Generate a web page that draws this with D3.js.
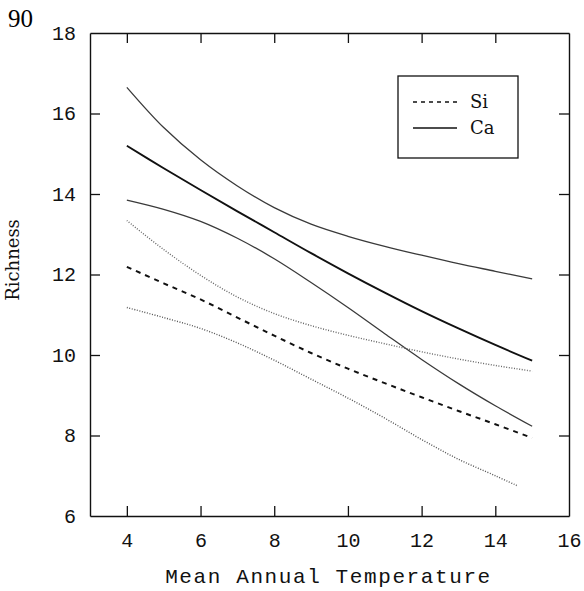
<!DOCTYPE html>
<html>
<head>
<meta charset="utf-8">
<script src="https://cdn.jsdelivr.net/npm/d3@7"></script>
<style>
  body { margin: 0; background: #fff; }
  svg { display: block; }
</style>
</head>
<body>
<div id="chart"></div>
<script>
// temperatures sampled along each fitted curve
const temps = [4, 5, 6, 7, 8, 9, 10, 11, 12, 13, 14, 15];
const tempsSiLow = [4, 5, 6, 7, 8, 9, 10, 11, 12, 13, 14, 14.6];

// Ca: fit and its upper / lower band
const caFit   = [15.2, 14.64, 14.1, 13.57, 13.05, 12.53, 12.03, 11.55, 11.09, 10.66, 10.25, 9.86];
const caUpper = [16.65, 15.65, 14.85, 14.2, 13.66, 13.25, 12.95, 12.7, 12.48, 12.27, 12.08, 11.89];
const caLower = [13.85, 13.62, 13.32, 12.9, 12.39, 11.8, 11.18, 10.53, 9.89, 9.29, 8.74, 8.23];

// Si: fit and its upper / lower band
const siFit   = [12.19, 11.78, 11.38, 10.93, 10.48, 10.05, 9.66, 9.3, 8.95, 8.61, 8.28, 7.94];
const siUpper = [13.34, 12.62, 11.98, 11.44, 11.03, 10.73, 10.49, 10.28, 10.08, 9.9, 9.74, 9.6];
const siLower = [11.18, 10.93, 10.66, 10.3, 9.87, 9.4, 8.93, 8.43, 7.9, 7.41, 7.0, 6.75];

const xTicks = [4, 6, 8, 10, 12, 14, 16];
const yTicks = [6, 8, 10, 12, 14, 16, 18];
const legendItems = ["Si", "Ca"];

const width = 584, height = 591;

const x = d3.scaleLinear().domain([3, 16]).range([90, 569]);
const y = d3.scaleLinear().domain([6, 18]).range([516, 33]);

const svg = d3.select("#chart").append("svg")
    .attr("width", width)
    .attr("height", height);

const tickFont = "'Liberation Mono', 'DejaVu Sans Mono', monospace";
const serif = "'DejaVu Serif', serif";

// page number
svg.append("text")
    .attr("x", 8)
    .attr("y", 27)
    .style("font", "25px 'Liberation Serif', serif")
    .text("90");

function styleAxis(g) {
  g.select(".domain").attr("stroke", "#111").attr("stroke-width", 1.4);
  g.selectAll(".tick line").attr("stroke", "#111").attr("stroke-width", 1.3);
  g.selectAll(".tick text").attr("fill", "#111").style("font-family", tickFont).style("font-size", "20px");
}

// bottom axis
svg.append("g")
    .attr("transform", `translate(0,${y(6)})`)
    .call(d3.axisBottom(x).tickValues(xTicks).tickSize(-10).tickSizeOuter(0).tickPadding(17).tickFormat(d3.format("d")))
    .call(styleAxis)
    .call(g => g.selectAll(".tick line").filter(d => d === 16).remove());

// top axis
svg.append("g")
    .attr("transform", `translate(0,${y(18)})`)
    .call(d3.axisTop(x).tickValues(xTicks.filter(d => d < 16)).tickSize(-10).tickSizeOuter(0).tickFormat(""))
    .call(styleAxis);

// left axis
svg.append("g")
    .attr("transform", `translate(${x(3)},0)`)
    .call(d3.axisLeft(y).tickValues(yTicks).tickSize(-10).tickSizeOuter(0).tickPadding(14).tickFormat(d3.format("d")))
    .call(styleAxis)
    .call(g => g.selectAll(".tick line").filter(d => d === 6 || d === 18).remove());

// right axis
svg.append("g")
    .attr("transform", `translate(${x(16)},0)`)
    .call(d3.axisRight(y).tickValues(yTicks.filter(d => d > 6 && d < 18)).tickSize(-10).tickSizeOuter(0).tickFormat(""))
    .call(styleAxis);

// axis titles
svg.append("text")
    .attr("x", (x(3) + x(16)) / 2 - 1)
    .attr("y", 583)
    .attr("text-anchor", "middle")
    .style("font-family", tickFont)
    .style("font-size", "21px")
    .style("letter-spacing", "1.6px")
    .attr("fill", "#111")
    .text("Mean Annual Temperature");

svg.append("text")
    .attr("transform", "translate(19,260) rotate(-90)")
    .attr("text-anchor", "middle")
    .style("font-family", serif)
    .style("font-size", "18px")
    .attr("fill", "#111")
    .text("Richness");

// curves
const line = d3.line()
    .x(d => x(d[0]))
    .y(d => y(d[1]))
    .curve(d3.curveCatmullRom);

const series = [
  { xs: temps, ys: caUpper, stroke: "#3a3a3a", w: 1.3, dash: null },
  { xs: temps, ys: caLower, stroke: "#3a3a3a", w: 1.3, dash: null },
  { xs: temps, ys: caFit, stroke: "#111", w: 1.9, dash: null },
  { xs: temps, ys: siUpper, stroke: "#666", w: 1.4, dash: "1,1.6" },
  { xs: tempsSiLow, ys: siLower, stroke: "#555", w: 1.4, dash: "1,1.6" },
  { xs: temps, ys: siFit, stroke: "#111", w: 2, dash: "5,5" }
];

svg.append("g")
    .attr("fill", "none")
  .selectAll("path")
  .data(series)
  .join("path")
    .attr("d", s => line(s.xs.map((t, i) => [t, s.ys[i]])))
    .attr("stroke", s => s.stroke)
    .attr("stroke-width", s => s.w)
    .attr("stroke-dasharray", s => s.dash);

// legend
const legend = svg.append("g").attr("transform", "translate(398,76)");

legend.append("rect")
    .attr("width", 120)
    .attr("height", 82)
    .attr("fill", "#fff")
    .attr("stroke", "#111")
    .attr("stroke-width", 1.3);

const item = legend.selectAll(".item")
  .data(legendItems)
  .join("g")
    .attr("class", "item")
    .attr("transform", (d, i) => `translate(0,${26 + i * 26})`);

item.append("line")
    .attr("x1", 15)
    .attr("x2", 59)
    .attr("stroke", "#111")
    .attr("stroke-width", d => d === "Si" ? 1.6 : 1.5)
    .attr("stroke-dasharray", d => d === "Si" ? "4,4" : null);

item.append("text")
    .attr("x", 72)
    .attr("y", 6)
    .style("font-family", serif)
    .style("font-size", "18px")
    .attr("fill", "#111")
    .text(d => d);
</script>
</body>
</html>
